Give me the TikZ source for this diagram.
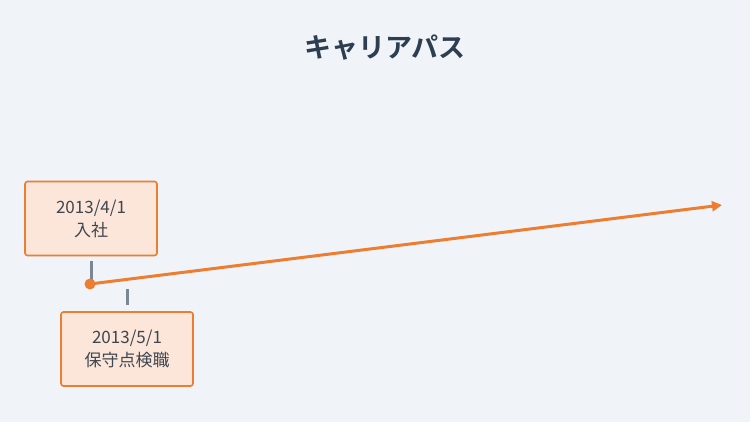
\documentclass[tikz,border=0pt]{standalone}
\usepackage{fontspec}
\newfontfamily\jp{Noto Sans CJK JP}
\newfontfamily\jpb{Noto Sans CJK JP Bold}
\definecolor{bg}{HTML}{F0F3F7}
\definecolor{org}{HTML}{ED7D31}
\definecolor{boxfill}{HTML}{FBE6D9}
\definecolor{titlec}{HTML}{2C3E50}
\definecolor{txt}{HTML}{3F4650}
\definecolor{tick}{HTML}{7B8794}
\usetikzlibrary{arrows.meta}
\begin{document}
\begin{tikzpicture}[x=1pt,y=-1pt,
  evbox/.style={draw=org,fill=boxfill,line width=1.6pt,rounded corners=2.5pt,minimum width=132pt,minimum height=74pt,inner sep=0pt,align=center,font=\jp\fontsize{17}{23}\selectfont,text=txt},
  tickline/.style={draw=tick,line width=3pt},
  path/.style={draw=org,line width=3pt,-{Triangle[length=10pt,width=10pt]}}]
\fill[bg] (0,0) rectangle (750,422);
\useasboundingbox (0,0) rectangle (750,422);
\node[font=\jpb\fontsize{27}{30}\selectfont,text=titlec] (title) at (385,48) {キャリアパス};
\node[evbox] (b1) at (91,218.5) {2013/4/1\\入社};
\node[evbox] (b2) at (127,349) {2013/5/1\\保守点検職};
\coordinate (start) at (90,284);
\coordinate (end) at (722,205);
\coordinate (t1a) at (91,261);
\coordinate (t1b) at (91,283);
\coordinate (t2a) at (127,289);
\coordinate (t2b) at (127,305);
\draw[tickline] (t1a) -- (t1b);
\draw[tickline] (t2a) -- (t2b);
\draw[path] (start) -- (end);
\fill[org] (start) circle (5.5pt);
\end{tikzpicture}
\end{document}
